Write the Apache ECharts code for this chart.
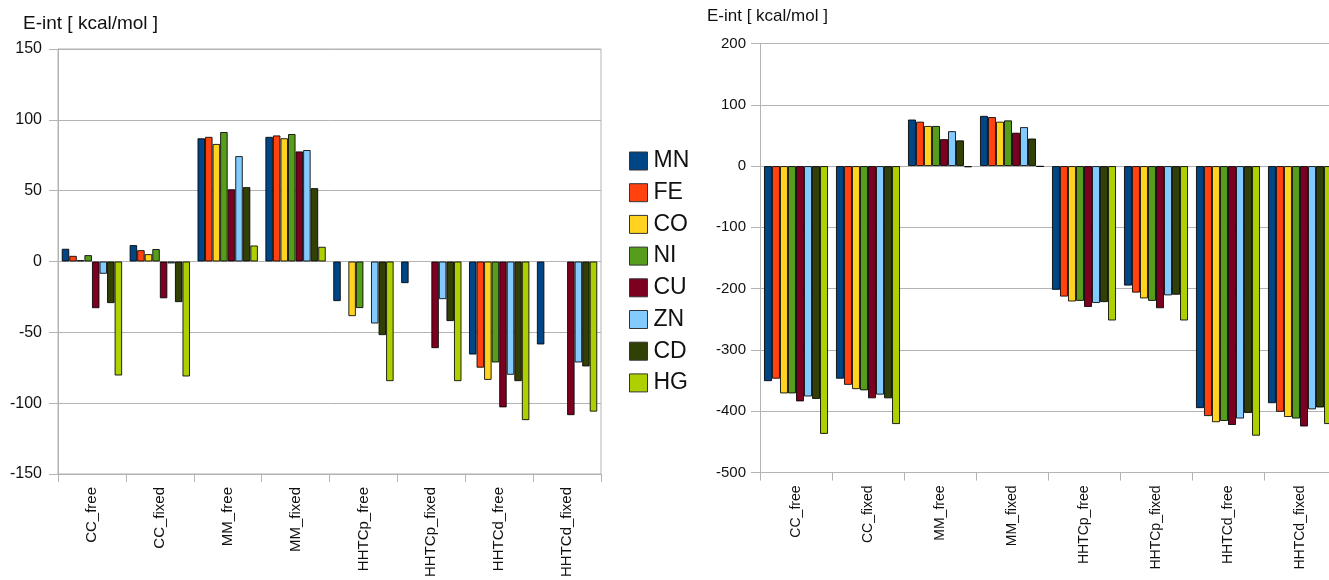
<!DOCTYPE html>
<html>
<head>
<meta charset="utf-8">
<script src="https://cdn.jsdelivr.net/npm/echarts@6/dist/echarts.min.js"></script>
<style>
html,body{margin:0;padding:0;background:#fff;overflow:hidden;}
#chart{width:1340px;height:580px;}
</style>
</head>
<body>
<div id="chart"></div>
<script>
// Categories and series names
const categories = ['CC_free','CC_fixed','MM_free','MM_fixed','HHTCp_free','HHTCp_fixed','HHTCd_free','HHTCd_fixed'];
const metals = ['MN','FE','CO','NI','CU','ZN','CD','HG'];
const colors = ['#004586','#ff420e','#ffd320','#579d1c','#7e0021','#83caff','#314004','#aecf00'];

// Left chart values (per metal, across categories)
const leftMN = [9, 11.6, 87, 88, -28, -15.3, -65.7, -58.6];
const leftFE = [4, 8, 88, 89, null, null, -75, null];
const leftCO = [1, 5.2, 83, 87, -38.6, null, -83.6, null];
const leftNI = [4.5, 8.8, 91.4, 90, -32.9, null, -71.3, null];
const leftCU = [-33, -26, 51, 77.7, null, -61.2, -103, -108.5];
const leftZN = [-8.7, -1.4, 74.4, 78.7, -43.8, -26.6, -80, -71.3];
const leftCD = [-29.4, -28.7, 52.5, 51.8, -52, -42.1, -84.5, -74.1];
const leftHG = [-80.5, -81.2, 11.3, 10.4, -84.5, -84.5, -112, -106];

// Right chart values
const rightMN = [-351, -347, 76, 82, -202, -195, -395, -387];
const rightFE = [-347, -357, 72.5, 80, -213, -206.5, -408, -401];
const rightCO = [-371, -364, 65.5, 72.5, -221, -216, -418, -409.5];
const rightNI = [-371, -366, 65.5, 74.6, -220, -220, -416, -412];
const rightCU = [-384, -379, 44, 54.5, -230, -232, -422.5, -425];
const rightZN = [-376, -373, 57, 63.6, -223.5, -211, -412, -397];
const rightCD = [-380, -379, 42, 45, -222, -210, -403, -394];
const rightHG = [-437, -421, -2, -1, -252, -252, -440, -421];

const leftData = [leftMN, leftFE, leftCO, leftNI, leftCU, leftZN, leftCD, leftHG];
const rightData = [rightMN, rightFE, rightCO, rightNI, rightCU, rightZN, rightCD, rightHG];

const leftTicks = {min: -150, max: 150, interval: 50};
const rightTicks = {min: -500, max: 200, interval: 100};
const axisTitle = 'E-int [ kcal/mol ]';

const FONT = '"Liberation Sans", Arial, sans-serif';
const gridCol = '#b3b3b3';

function makeSeries(dataSets, idx) {
  return dataSets.map((d, i) => ({
    name: metals[i],
    type: 'bar',
    xAxisIndex: idx,
    yAxisIndex: idx,
    data: d,
    barGap: '0%',
    barCategoryGap: '11%',
    itemStyle: {color: colors[i], borderColor: 'rgba(0,0,0,0.85)', borderWidth: 1},
    emphasis: {disabled: true},
    animation: false
  }));
}

function xAxis(gi, fs, margin) {
  return {
    type: 'category', gridIndex: gi, data: categories, boundaryGap: true,
    axisLine: {onZero: false, lineStyle: {color: gridCol, width: 1}},
    axisTick: {show: true, length: 8, lineStyle: {color: gridCol}},
    axisLabel: {rotate: 90, fontSize: fs, fontFamily: FONT, color: '#111', margin: margin, interval: 0},
    splitLine: {show: false}
  };
}
function yAxis(gi, t, fs, margin) {
  return {
    type: 'value', gridIndex: gi, min: t.min, max: t.max, interval: t.interval,
    axisLine: {show: true, lineStyle: {color: gridCol, width: 1}},
    axisTick: {show: true, length: 9, lineStyle: {color: gridCol}},
    axisLabel: {fontSize: fs, fontFamily: FONT, color: '#111', margin: margin},
    splitLine: {show: true, lineStyle: {color: gridCol, width: 1}}
  };
}

const chart = echarts.init(document.getElementById('chart'), null, {renderer: 'canvas'});
chart.setOption({
  animation: false,
  backgroundColor: '#fff',
  textStyle: {fontFamily: FONT},
  grid: [
    {left: 58, top: 49, width: 543, height: 425, show: true, borderColor: gridCol, borderWidth: 1, backgroundColor: 'transparent'},
    {left: 760, top: 43.5, width: 576, height: 429, show: false}
  ],
  xAxis: [xAxis(0, 15, 13), xAxis(1, 14, 13)],
  yAxis: [yAxis(0, leftTicks, 16, 16), yAxis(1, rightTicks, 15, 14)],
  legend: {
    orient: 'vertical', left: 629, top: 149, padding: 0,
    icon: 'rect',
    itemWidth: 18, itemHeight: 18, itemGap: 7.7,
    data: metals,
    textStyle: {fontSize: 23, lineHeight: 24, fontFamily: FONT, color: '#111', padding: [0,0,0,1]},
    itemStyle: {borderColor: '#333', borderWidth: 1},
    selectedMode: false
  },
  graphic: [
    {type: 'text', left: 23, top: 14, style: {text: axisTitle, font: '19px ' + FONT, fill: '#111'}},
    {type: 'text', left: 707, top: 8, style: {text: axisTitle, font: '17px ' + FONT, fill: '#111'}}
  ],
  series: makeSeries(leftData, 0).concat(makeSeries(rightData, 1))
});
</script>
</body>
</html>
